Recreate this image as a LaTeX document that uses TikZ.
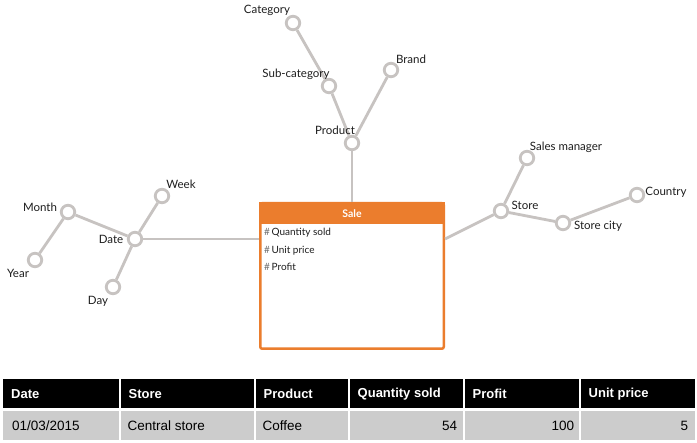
\documentclass[tikz,border=0pt]{standalone}
\usepackage{fontspec}
\setmainfont{Lato}
\newfontfamily\tabfont{Liberation Sans}
\usetikzlibrary{calc, positioning}

\definecolor{linkgray}{RGB}{199,195,193}
\definecolor{labelgray}{RGB}{30,30,30}
\definecolor{hashgray}{RGB}{110,110,110}
\definecolor{saleorange}{RGB}{235,125,45}
\definecolor{rowgray}{RGB}{204,204,204}

\tikzset{
  lvl/.style={circle, draw=linkgray, line width=2.8pt, fill=white,
              minimum size=13.5pt, inner sep=0pt},
  link/.style={draw=linkgray, line width=2.8pt},
  lbl/.style={font=\fontsize{11.5}{13}\selectfont, text=labelgray, inner sep=0pt},
  item/.style={font=\fontsize{10}{12}\selectfont, text=labelgray, inner sep=0pt},
  hcell/.style={fill=black, minimum height=29pt, inner sep=0pt},
  dcell/.style={fill=rowgray, minimum height=29.5pt, inner sep=0pt},
  htxt/.style={font=\tabfont\bfseries\fontsize{13}{15}\selectfont, text=white, inner sep=0pt},
  dtxt/.style={font=\tabfont\fontsize{13.5}{15}\selectfont, text=black, inner sep=0pt}
}

\begin{document}
\begin{tikzpicture}[x=1pt, y=-1pt]
  \useasboundingbox (0,0) rectangle (697,443);
  \fill[white] (0,0) rectangle (697,443);

  % fact
  \node[draw=saleorange, line width=2.5pt, fill=white, rounded corners=2pt,
        minimum width=183.5pt, minimum height=145.5pt] (sale) at (352,276) {};
  \fill[saleorange] (sale.north west) rectangle ([yshift=-22pt]sale.north east);
  \node[font=\bfseries\fontsize{10.5}{12}\selectfont, text=white, inner sep=0pt]
        (salehead) at ([yshift=-12pt]sale.north) {Sale};
  \node[item, anchor=west] (qty) at ([xshift=5pt, yshift=-31pt]sale.north west)
        {\textcolor{hashgray}{\#}\,Quantity sold};
  \node[item, anchor=west] (unit) at ([yshift=-18pt]qty.west)
        {\textcolor{hashgray}{\#}\,Unit price};
  \node[item, anchor=west] (profit) at ([yshift=-16pt]unit.west)
        {\textcolor{hashgray}{\#}\,Profit};

  % levels
  \node[lvl] (prod)  at (352,143) {};
  \node[lvl] (sub)   at (329,86) {};
  \node[lvl] (cat)   at (293,23) {};
  \node[lvl] (brand) at (391,70) {};

  \node[lvl] (date)  at (135,239) {};
  \node[lvl] (month) at (68,212) {};
  \node[lvl] (year)  at (35,260) {};
  \node[lvl] (week)  at (162,196) {};
  \node[lvl] (day)   at (113,287) {};

  \node[lvl] (store)   at (501,211) {};
  \node[lvl] (manager) at (527,158) {};
  \node[lvl] (city)    at (563,223) {};
  \node[lvl] (country) at (637,195) {};

  \draw[link] (prod) -- (sale.north);
  \draw[link] (prod) -- (sub);
  \draw[link] (sub) -- (cat);
  \draw[link] (prod) -- (brand);

  \draw[link] (date) -- (date -| sale.west);
  \draw[link] (date) -- (month);
  \draw[link] (month) -- (year);
  \draw[link] (date) -- (week);
  \draw[link] (date) -- (day);

  \draw[link] (sale.east |- date) -- (store);
  \draw[link] (store) -- (manager);
  \draw[link] (store) -- (city);
  \draw[link] (city) -- (country);

  % labels
  \node[lbl] (prodl)  at (335,130) {Product};
  \node[lbl] (subl)   at (296,74) {Sub-category};
  \node[lbl] (catl)   at (267,10) {Category};
  \node[lbl] (brandl) at (411,59) {Brand};

  \node[lbl] (datel)  at (111,239) {Date};
  \node[lbl] (monthl) at (40,207) {Month};
  \node[lbl] (yearl)  at (18,273) {Year};
  \node[lbl] (weekl)  at (181,184) {Week};
  \node[lbl] (dayl)   at (98,301) {Day};

  \node[lbl] (storel)   at (525,205) {Store};
  \node[lbl] (managerl) at (566,147) {Sales manager};
  \node[lbl] (cityl)    at (598,226) {Store city};
  \node[lbl] (countryl) at (666,192) {Country};

  % table
  \foreach \l/\r/\head/\val/\ta/\dx [count=\i] in {
      3/119/Date/{01/03/2015}/west/9,
      120.5/254/Store/Central store/west/7,
      255.5/348/Product/Coffee/west/7,
      349.5/463/Quantity sold/54/east/-6,
      464.5/579/Profit/100/east/-5,
      580.5/695/Unit price/5/east/-7} {
    \pgfmathsetmacro\w{\r-\l}
    \node[hcell, minimum width=\w pt, anchor=north west] (h\i) at (\l,379) {};
    \node[dcell, minimum width=\w pt, anchor=north west] (d\i) at (\l,410.5) {};
    \node[htxt, anchor=west] at ([xshift=8pt]h\i.west) {\head};
    \node[dtxt, anchor=\ta] at ([xshift=\dx pt]d\i.\ta) {\val};
  }
\end{tikzpicture}
\end{document}
